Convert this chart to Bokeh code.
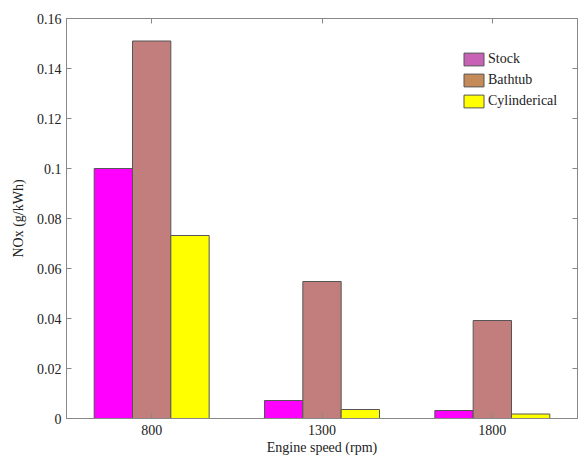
from bokeh.plotting import figure
from bokeh.models import (ColumnDataSource, FactorRange, Range1d, LinearAxis,
                          CategoricalAxis, FixedTicker, Legend, LegendItem)
from bokeh.transform import dodge
from bokeh.embed import file_html
from bokeh.resources import INLINE

speeds = ["800", "1300", "1800"]
stock = [0.1, 0.0072, 0.0032]
bathtub = [0.151, 0.0548, 0.0392]
cylinderical = [0.0732, 0.0036, 0.0018]
series_names = ["Stock", "Bathtub", "Cylinderical"]
y_ticks = [0, 0.02, 0.04, 0.06, 0.08, 0.1, 0.12, 0.14, 0.16]
y_tick_labels = ["0", "0.02", "0.04", "0.06", "0.08", "0.1", "0.12", "0.14", "0.16"]

bar_colors = ["#FF00FF", "#C27E7C", "#FFFF00"]
legend_colors = ["#C862B6", "#C48A58", "#FFFF00"]
FONT = "Liberation Serif"
AX = "#888888"

src = ColumnDataSource(dict(speed=speeds, stock=stock, bathtub=bathtub, cyl=cylinderical))

p = figure(x_range=FactorRange(*speeds, range_padding=0), y_range=Range1d(0, 0.16),
           width=581, height=457, output_backend="svg", toolbar_location=None,
           min_border_left=66, min_border_right=4, min_border_top=18, min_border_bottom=30)

W = 0.225
for col, off, c in zip(["stock", "bathtub", "cyl"], [-W, 0, W], bar_colors):
    p.vbar(x=dodge("speed", off, range=p.x_range), top=col, width=W, source=src,
           fill_color=c, line_color="#555555", line_width=1)

# legend swatches (their colours differ from the bars in the original);
# drawn below the visible y range so only the legend shows them
items = []
for name, c in zip(series_names, legend_colors):
    r = p.vbar(x=[speeds[0]], top=[-1], bottom=[-2], width=W, fill_color=c,
               line_color="#555555", line_width=1)
    items.append(LegendItem(label=name, renderers=[r]))
legend = Legend(items=items, location=(395, 309), border_line_color=None,
                background_fill_alpha=0, glyph_width=25, glyph_height=16,
                spacing=5, padding=4, margin=0, label_standoff=2,
                label_text_font=FONT, label_text_font_size="14px",
                label_text_color="#222222")
p.add_layout(legend)

p.xgrid.visible = False
p.ygrid.visible = False
p.outline_line_color = AX

for ax in p.axis:
    ax.axis_line_color = AX
    ax.major_tick_line_color = AX
    ax.minor_tick_line_color = None
    ax.major_tick_in = 5
    ax.major_tick_out = 0
    ax.major_label_text_font = FONT
    ax.major_label_text_font_size = "14px"
    ax.major_label_text_color = "#222222"
    ax.axis_label_text_font = FONT
    ax.axis_label_text_font_size = "14px"
    ax.axis_label_text_font_style = "normal"
    ax.axis_label_text_color = "#222222"

p.yaxis.ticker = FixedTicker(ticks=y_ticks)
p.yaxis.major_label_overrides = {t: l for t, l in zip(y_ticks, y_tick_labels)}
p.yaxis.axis_label = "NOx (g/kWh)"
p.xaxis.axis_label = "Engine speed (rpm)"
p.xaxis.axis_label_standoff = 2
p.yaxis.axis_label_standoff = 8
p.xaxis.major_label_standoff = 6

ra = LinearAxis(ticker=FixedTicker(ticks=y_ticks), axis_line_color=AX,
                major_tick_line_color=AX, major_tick_in=5, major_tick_out=0,
                minor_tick_line_color=None, major_label_text_color=None,
                major_label_overrides={t: "" for t in y_ticks},
                major_label_standoff=0)
p.add_layout(ra, "right")
ta = CategoricalAxis(axis_line_color=AX, major_tick_line_color=AX, major_tick_in=5,
                     major_tick_out=0, major_label_text_color=None,
                     major_label_overrides={s: "" for s in speeds},
                     major_label_standoff=0)
p.add_layout(ta, "above")

open("out.html", "w").write(file_html(p, INLINE))
